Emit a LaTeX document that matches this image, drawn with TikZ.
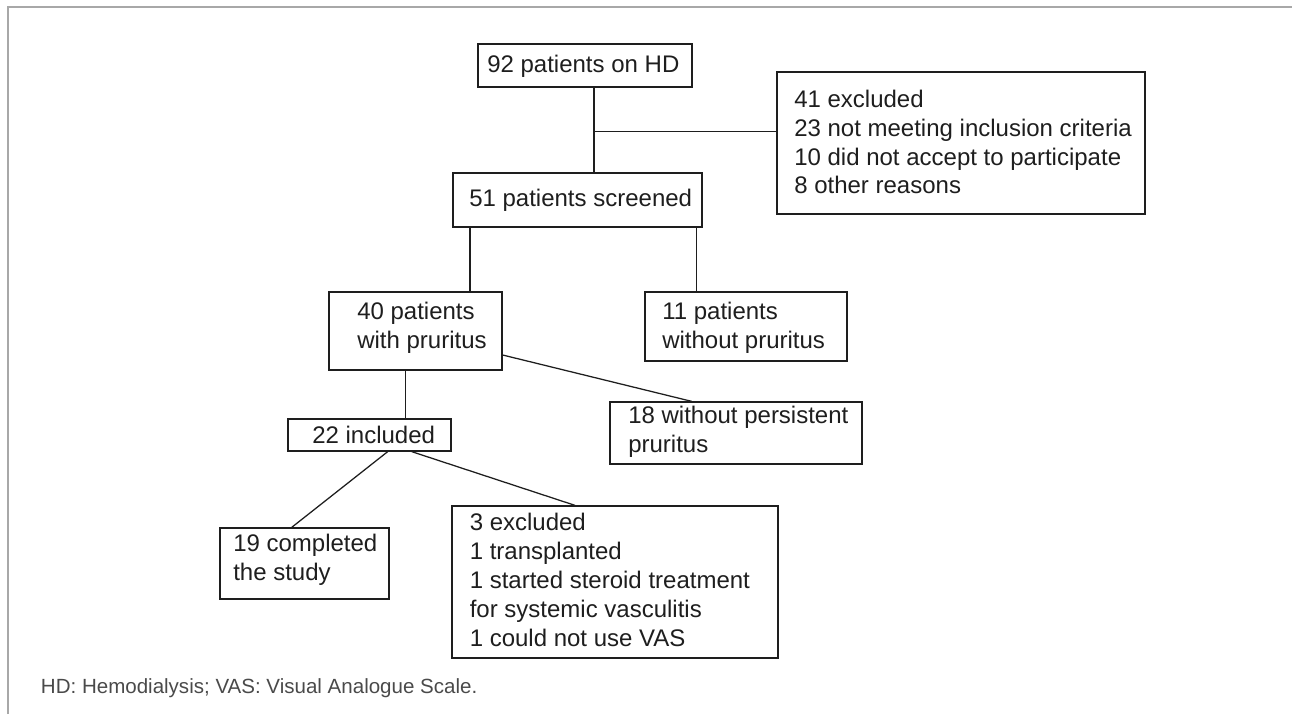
\documentclass[tikz,border=0pt]{standalone}
\usepackage{fontspec}
\setmainfont{Liberation Sans}
\usetikzlibrary{calc}
\definecolor{frame}{HTML}{A8A8A8}
\definecolor{ink}{HTML}{1E1E1E}
\definecolor{note}{HTML}{4A4A4A}
\begin{document}
\begin{tikzpicture}[x=0.75pt,y=-0.75pt,
  box/.style={draw=ink,line width=0.95pt,inner sep=0pt,rectangle},
  txt/.style={anchor=west,inner sep=0pt,align=left,text=ink,font=\fontsize{18}{21.7}\selectfont},
  conn/.style={draw=ink,line width=0.95pt}]
\useasboundingbox (0,0) rectangle (1292,714);
\draw[frame,line width=1.2pt] (8,714) -- (8,7) -- (1292,7);
% boxes
\node[box,minimum width=160.5pt,minimum height=32.25pt] (b1) at (585,65.5) {};
\node[txt] (t1) at (487,66) {92 patients on HD};
\node[box,minimum width=186.75pt,minimum height=40.5pt] (b2) at (577.5,200) {};
\node[txt] (t2) at (469,200) {51 patients screened};
\node[box,minimum width=276pt,minimum height=106.5pt] (b3) at (961,143) {};
\node[txt] (t3) at (794,142) {41 excluded\\23 not meeting inclusion criteria\\10 did not accept to participate\\8 other reasons};
\node[box,minimum width=129.75pt,minimum height=58.5pt] (b4) at (415.5,331) {};
\node[txt] (t4) at (357,328) {40 patients\\with pruritus};
\node[box,minimum width=151.5pt,minimum height=51.75pt] (b5) at (746,326.5) {};
\node[txt] (t5) at (662,328) {11 patients\\without pruritus};
\node[box,minimum width=189pt,minimum height=46.5pt] (b6) at (736,433) {};
\node[txt] (t6) at (628,432) {18 without persistent\\pruritus};
\node[box,minimum width=122.25pt,minimum height=24pt] (b7) at (369.5,435) {};
\node[txt] (t7) at (312,435) {22 included};
\node[box,minimum width=126.75pt,minimum height=53.25pt] (b8) at (304.5,563.5) {};
\node[txt] (t8) at (233,560) {19 completed\\the study};
\node[box,minimum width=244.5pt,minimum height=114pt] (b9) at (615,582) {};
\node[txt] (t9) at (469.5,580) {3 excluded\\1 transplanted\\1 started steroid treatment\\for systemic vasculitis\\1 could not use VAS};
% connectors
\coordinate (j1) at (594,131.7);
\coordinate (xa) at (470,0);
\coordinate (xb) at (696.5,0);
\coordinate (xc) at (405.7,0);
\draw[conn] (j1 |- b1.south) -- (j1 |- b2.north);
\draw[conn] (j1) -- (j1 -| b3.west);
\draw[conn] (b2.south -| xa) -- (b4.north -| xa);
\draw[conn] (b2.south -| xb) -- (b5.north -| xb);
\draw[conn] (b4.south -| xc) -- (b7.north -| xc);
\draw[conn] ($(b4.east)+(0,24)$) -- ($(b6.north)+(-44.3,0)$);
\draw[conn] ($(b7.south)+(18.2,0)$) -- ($(b8.north)+(-12.8,0)$);
\draw[conn] ($(b7.south)+(42.2,0)$) -- ($(b9.north)+(-40,0)$);
% footnote
\node[anchor=west,inner sep=0pt,text=note,font=\fontsize{15.4}{18}\selectfont] (fn) at (40.7,688) {HD: Hemodialysis; VAS: Visual Analogue Scale.};
\end{tikzpicture}
\end{document}
